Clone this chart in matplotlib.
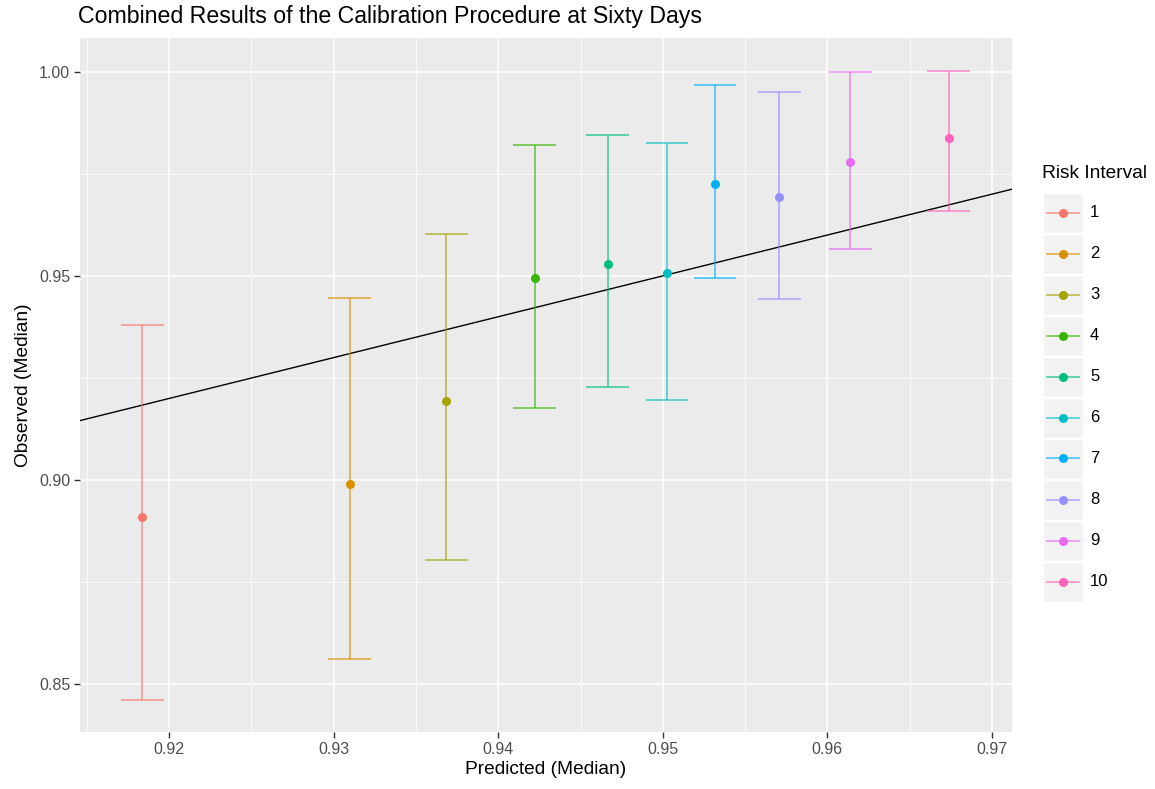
import matplotlib
matplotlib.use("Agg")
import matplotlib.pyplot as plt
from matplotlib.lines import Line2D
from matplotlib.patches import Rectangle
import numpy as np

plt.rcParams['font.family'] = ['Liberation Sans', 'DejaVu Sans']

# ---- data ----
groups = ["1", "2", "3", "4", "5", "6", "7", "8", "9", "10"]
predicted = [0.91837, 0.93097, 0.93683, 0.94222, 0.94666, 0.95026, 0.95317, 0.95707, 0.96140, 0.96738]
observed = [0.8909, 0.8991, 0.9194, 0.9494, 0.9530, 0.9507, 0.9726, 0.9693, 0.9778, 0.9838]
upper = [0.9379, 0.9445, 0.9603, 0.9821, 0.9844, 0.9826, 0.9968, 0.9951, 0.9999, 1.0002]
lower = [0.8463, 0.8563, 0.8805, 0.9176, 0.9229, 0.9197, 0.9495, 0.9444, 0.9565, 0.9658]
colors = ["#F8766D", "#D89000", "#A3A500", "#39B600", "#00BF7D",
          "#00BFC4", "#00B0F6", "#9590FF", "#E76BF3", "#FF62BC"]
x_ticks = [0.92, 0.93, 0.94, 0.95, 0.96, 0.97]
y_ticks = [0.85, 0.90, 0.95, 1.00]

W, H = 1155, 789
fig = plt.figure(figsize=(W / 100, H / 100), dpi=100)
ax = fig.add_axes([80 / W, 1 - 732 / H, (1012 - 80) / W, (732 - 38) / H])
ax.set_facecolor("#EBEBEB")
for s in ax.spines.values():
    s.set_visible(False)

xlim = (0.91458, 0.97122)
ylim = (0.83835, 1.00823)
ax.set_xlim(*xlim)
ax.set_ylim(*ylim)
ax.set_xticks(x_ticks)
ax.set_yticks(y_ticks)
ax.set_xticklabels([f"{v:.2f}" for v in x_ticks])
ax.set_yticklabels([f"{v:.2f}" for v in y_ticks])
ax.set_xticks([0.915, 0.925, 0.935, 0.945, 0.955, 0.965], minor=True)
ax.set_yticks([0.875, 0.925, 0.975], minor=True)
ax.grid(which="major", color="white", linewidth=1.1)
ax.grid(which="minor", color="white", linewidth=0.55)
ax.set_axisbelow(True)
ax.tick_params(which="major", length=4, width=1, color="#333333",
               labelcolor="#4D4D4D", labelsize=11.5, pad=3)
ax.tick_params(which="minor", length=0)

# identity line
ax.axline((0.93, 0.93), slope=1, color="black", linewidth=1.0, zorder=2)

cap = 0.0013
for i in range(len(groups)):
    c = colors[i]
    ax.vlines(predicted[i], lower[i], upper[i], color=c, alpha=0.7, linewidth=1.2, zorder=3)
    ax.hlines([lower[i], upper[i]], predicted[i] - cap, predicted[i] + cap,
              color=c, alpha=0.7, linewidth=1.2, zorder=3)
    ax.plot(predicted[i], observed[i], "o", color=c, markersize=6.5, zorder=4,
            markeredgewidth=0)

ax.set_xlabel("Predicted (Median)", fontsize=13.8, labelpad=3)
ax.set_ylabel("Observed (Median)", fontsize=13.8, labelpad=5)
fig.text(78 / W, 1 - 17 / H, "Combined Results of the Calibration Procedure at Sixty Days",
         fontsize=16.7, va="center", ha="left")

# ---- legend (ggplot style) ----
fig.text(1042 / W, 1 - 174 / H, "Risk Interval", fontsize=13.8, va="center", ha="left")
key_x0, key_w, key_h, key_top = 1043, 40, 41, 192
for i, g in enumerate(groups):
    yc = key_top + key_h * i + key_h / 2
    fig.add_artist(Rectangle((key_x0 / W, 1 - (key_top + key_h * (i + 1)) / H),
                             key_w / W, (key_h - 1) / H, transform=fig.transFigure,
                             facecolor="#F2F2F2", edgecolor="white", linewidth=1))
    fig.add_artist(Line2D([(key_x0 + 4) / W, (key_x0 + key_w - 4) / W],
                          [1 - yc / H, 1 - yc / H], transform=fig.transFigure,
                          color=colors[i], alpha=0.7, linewidth=1.2))
    fig.add_artist(Line2D([(key_x0 + key_w / 2) / W], [1 - yc / H], transform=fig.transFigure,
                          marker="o", color=colors[i], markersize=6.5, markeredgewidth=0))
    fig.text((key_x0 + key_w + 7) / W, 1 - yc / H, g, fontsize=12, va="center", ha="left")

fig.savefig("out.png", dpi=100)
